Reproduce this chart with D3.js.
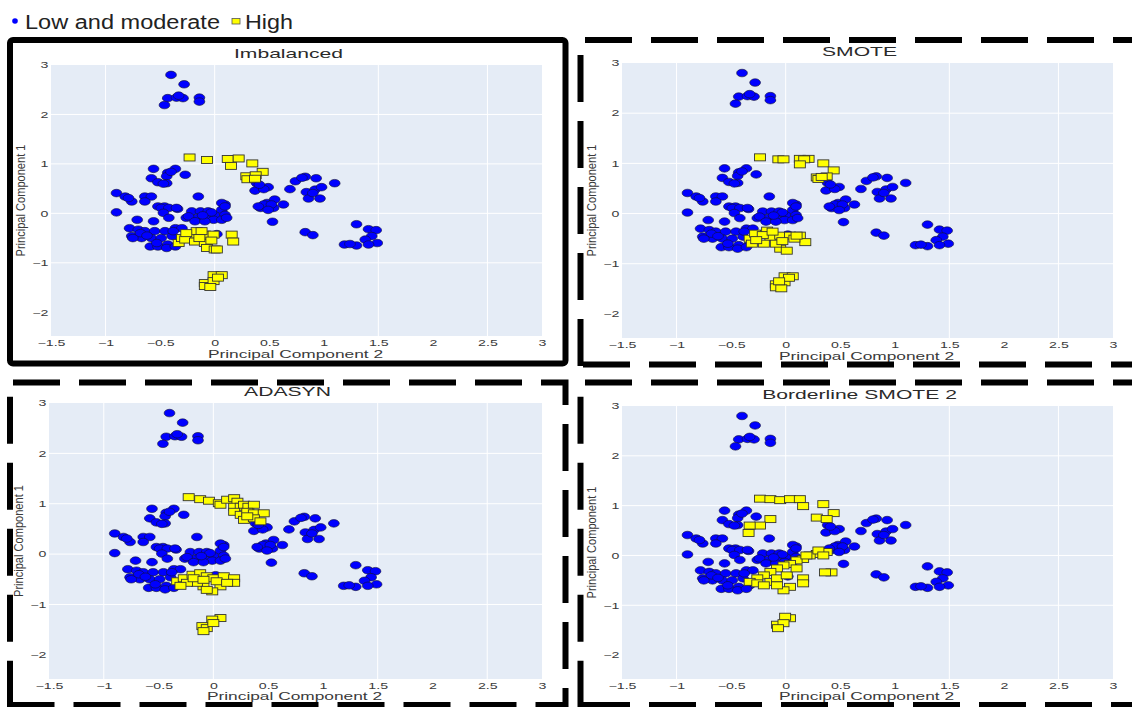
<!DOCTYPE html>
<html>
<head>
<meta charset="utf-8">
<script src="https://cdn.jsdelivr.net/npm/d3@7"></script>
<style>
  body { margin: 0; background: #fff; }
  text { font-family: "Liberation Sans", Arial, sans-serif; }
</style>
</head>
<body>
<svg id="chart" width="1132" height="707"></svg>
<script>
// tick values / grid
var xTicks = [-1.5, -1, -0.5, 0, 0.5, 1, 1.5, 2, 2.5, 3];
var yTicks = [-2, -1, 0, 1, 2, 3];
var xGrid = [-1, 0, 1.5, 2.5];
var yGrid = [-1, 0, 1, 2];

var seriesNames = ["Low and moderate", "High"];
var panelTitles = ["Imbalanced", "SMOTE", "ADASYN", "Borderline SMOTE 2"];

// majority class (same in every panel): [PC2, PC1]
var lowModerate = [
  [-0.40,2.80],[-0.28,2.61],[-0.43,2.33],[-0.35,2.34],[-0.29,2.33],[-0.33,2.38],[-0.46,2.19],[-0.14,2.34],[-0.14,2.26],
  [-0.56,0.90],[-0.36,0.90],[-0.43,0.82],[-0.44,0.75],[-0.27,0.78],[-0.58,0.71],[-0.52,0.63],[-0.44,0.61],[-0.47,0.60],[-0.40,0.84],
  [-0.90,0.41],[-0.90,0.02],[-0.82,0.34],[-0.76,0.24],[-0.79,0.31],[-0.64,0.34],[-0.58,0.34],[-0.64,0.24],[-0.71,-0.13],[-0.56,-0.16],[-0.15,0.34],
  [-0.52,0.14],[-0.46,0.14],[-0.49,0.11],[-0.42,0.11],[-0.34,0.09],[-0.47,0.01],[-0.42,-0.09],[-0.35,0.11],
  [-0.26,-0.09],[-0.21,0.04],[-0.13,0.04],[-0.06,0.04],[0.00,-0.03],[0.065,0.07],[0.095,0.18],[0.095,-0.03],[-0.16,-0.09],[-0.09,-0.09],
  [-0.01,-0.13],[-0.24,-0.06],[-0.18,-0.16],[-0.09,-0.16],[0.065,-0.13],[0.11,-0.09],[0.065,0.21],[0.095,0.14],[-0.03,0.02],[-0.11,-0.04],
  [-0.78,-0.30],[-0.70,-0.33],[-0.64,-0.36],[-0.55,-0.36],[-0.455,-0.36],[-0.36,-0.30],[-0.76,-0.46],[-0.67,-0.50],[-0.58,-0.50],[-0.49,-0.50],
  [-0.39,-0.46],[-0.59,-0.67],[-0.52,-0.67],[-0.43,-0.63],[-0.33,-0.60],[-0.68,-0.40],[-0.53,-0.60],[-0.44,-0.70],[-0.36,-0.67],[-0.30,-0.30],
  [-0.38,-0.36],[-0.75,-0.50],[-0.62,-0.45],[0.02,-0.42],
  [0.385,0.61],[0.49,0.53],[0.37,0.46],[0.45,0.49],[0.41,0.58],
  [0.42,0.11],[0.48,0.21],[0.55,0.28],[0.54,0.11],[0.63,0.18],[0.45,0.18],[0.52,0.18],[0.40,0.14],[0.49,0.07],[0.53,-0.17],
  [0.69,0.49],[0.74,0.65],[0.83,0.74],[0.93,0.71],[1.10,0.61],[0.84,0.43],[0.92,0.48],[0.98,0.53],[0.86,0.30],[0.965,0.30],[0.90,0.41],[0.80,0.72],
  [0.83,-0.38],[0.90,-0.44],[1.30,-0.22],[1.41,-0.32],[1.48,-0.34],[1.44,-0.46],[1.38,-0.53],[1.49,-0.60],[1.19,-0.63],[1.30,-0.65],[1.41,-0.63],[1.24,-0.62]
];

// minority class per resampling method
var highImbalanced = [
  [-0.23,1.13],[-0.07,1.08],[0.12,1.10],[0.22,1.11],[0.15,0.96],[0.345,1.01],[0.44,0.84],[0.29,0.75],[0.376,0.77],[0.30,0.69],[0.37,0.70],
  [-0.33,-0.60],[-0.30,-0.50],[-0.21,-0.43],[-0.165,-0.36],[-0.09,-0.43],[-0.01,-0.43],[-0.27,-0.53],[-0.18,-0.57],[-0.09,-0.60],
  [-0.07,-0.70],[0.00,-0.73],[0.156,-0.43],[0.17,-0.57],[-0.26,-0.40],[-0.12,-0.36],[0.02,-0.73],[-0.14,-0.50],[-0.03,-0.55],
  [-0.01,-1.25],[0.065,-1.25],[-0.09,-1.41],[-0.09,-1.47],[-0.01,-1.37],[-0.04,-1.49],[0.03,-1.30]
];
var highSmote = [
  [-0.235,1.12],[-0.067,1.08],[-0.02,1.08],[0.13,1.09],[0.21,1.09],[0.17,1.08],[0.13,0.98],[0.345,1.00],[0.44,0.86],[0.285,0.72],[0.376,0.74],[0.30,0.69],[0.33,0.73],
  [-0.33,-0.50],[-0.28,-0.40],[-0.17,-0.34],[-0.14,-0.47],[-0.05,-0.44],[0.04,-0.44],[0.13,-0.44],[0.18,-0.57],[-0.05,-0.70],[0.01,-0.74],
  [-0.20,-0.60],[-0.31,-0.60],[-0.21,-0.43],[-0.09,-0.60],[-0.27,-0.53],[-0.12,-0.36],[0.08,-0.50],[-0.03,-0.55],[0.10,-0.44],
  [-0.01,-1.25],[0.065,-1.25],[-0.09,-1.41],[-0.09,-1.47],[-0.01,-1.37],[-0.04,-1.49],[0.03,-1.28],[-0.06,-1.35]
];
var highAdasyn = [
  [-0.225,1.13],[-0.12,1.09],[-0.04,1.06],[0.05,1.01],[0.065,0.98],[0.126,1.08],[0.19,1.11],[0.22,1.04],[0.19,0.94],[0.25,0.94],
  [0.28,0.98],[0.32,0.94],[0.37,0.98],[0.19,0.84],[0.25,0.78],[0.31,0.84],[0.37,0.81],[0.46,0.81],[0.28,0.68],[0.37,0.71],[0.43,0.65],[0.31,0.75],
  [-0.33,-0.54],[-0.27,-0.48],[-0.19,-0.41],[-0.12,-0.38],[-0.06,-0.44],[0.00,-0.48],[0.095,-0.44],[0.19,-0.48],[0.19,-0.57],[0.065,-0.64],
  [-0.01,-0.74],[-0.09,-0.64],[-0.15,-0.57],[-0.24,-0.57],[-0.30,-0.63],[-0.18,-0.48],[-0.09,-0.51],[0.03,-0.54],[0.126,-0.57],[-0.06,-0.71],
  [0.065,-1.27],[-0.01,-1.30],[-0.10,-1.43],[-0.06,-1.47],[0.00,-1.37],[-0.09,-1.53]
];
var highBorderline = [
  [-0.235,1.14],[-0.14,1.13],[-0.05,1.11],[0.04,1.13],[0.13,1.13],[0.16,0.99],[0.345,1.03],[0.44,0.85],[0.285,0.76],[0.376,0.73],
  [-0.14,0.73],[-0.235,0.60],[-0.33,0.60],[-0.34,0.45],
  [0.376,0.07],[0.285,0.03],[0.22,0.00],[0.16,-0.07],[0.10,-0.10],[0.04,-0.17],[-0.02,-0.20],[-0.08,-0.26],[-0.14,-0.33],[-0.20,-0.40],
  [-0.26,-0.46],[-0.33,-0.53],[-0.14,-0.53],[-0.08,-0.46],[0.01,-0.40],[0.10,-0.26],[0.16,-0.46],[0.16,-0.56],[0.04,-0.63],[-0.02,-0.70],
  [0.42,-0.34],[0.36,-0.34],[0.19,0.00],[0.30,0.10],[0.345,0.00],[-0.26,-0.56],[-0.20,-0.60],[-0.08,-0.60],
  [0.04,-1.26],[-0.005,-1.23],[-0.08,-1.39],[-0.02,-1.36],[-0.07,-1.46]
];

var highSets = [highImbalanced, highSmote, highAdasyn, highBorderline];

// layout of the four subplots
var panels = [
  { left: 51,  top: 65,  w: 491, h: 271 },
  { left: 622, top: 63,  w: 491, h: 275 },
  { left: 49,  top: 403, w: 493, h: 276 },
  { left: 622, top: 406, w: 491, h: 273 }
];

var SX = 1.65; // horizontal stretch of the original raster
var svg = d3.select("#chart");

function fmt(d) { return d < 0 ? "\u2212" + Math.abs(d) : String(d); }

panels.forEach(function(p, i) {
  var x = d3.scaleLinear().domain([-1.5, 3]).range([p.left, p.left + p.w]);
  var y = d3.scaleLinear().domain([-2.48, 3]).range([p.top + p.h, p.top]);
  var g = svg.append("g");

  g.append("rect")
    .attr("x", p.left).attr("y", p.top)
    .attr("width", p.w).attr("height", p.h)
    .attr("fill", "#E5ECF6");

  g.selectAll(".gx").data(xGrid).enter().append("line")
    .attr("x1", function(d) { return x(d); }).attr("x2", function(d) { return x(d); })
    .attr("y1", p.top).attr("y2", p.top + p.h)
    .attr("stroke", "#fff").attr("stroke-width", 1);
  g.selectAll(".gy").data(yGrid).enter().append("line")
    .attr("y1", function(d) { return y(d); }).attr("y2", function(d) { return y(d); })
    .attr("x1", p.left).attr("x2", p.left + p.w)
    .attr("stroke", "#fff").attr("stroke-width", 1);

  var xa = g.append("g")
    .attr("transform", "translate(0," + (p.top + p.h) + ")")
    .call(d3.axisBottom(x).tickValues(xTicks).tickSize(0).tickPadding(3.5).tickFormat(fmt));
  xa.select(".domain").remove();
  xa.selectAll("text")
    .attr("font-size", 8.6).attr("fill", "#3a3a3a").style("font-family", "Liberation Sans, Arial, sans-serif")
    .attr("transform", "scale(" + SX + ",1)");

  var ya = g.append("g")
    .attr("transform", "translate(" + p.left + ",0)")
    .call(d3.axisLeft(y).tickValues(yTicks).tickSize(0).tickFormat(fmt));
  ya.select(".domain").remove();
  ya.selectAll("text")
    .attr("x", 0)
    .attr("font-size", 8.6).attr("fill", "#3a3a3a").style("font-family", "Liberation Sans, Arial, sans-serif")
    .attr("transform", "translate(-2.5,0) scale(" + SX + ",1)");

  // markers
  g.selectAll(".low").data(lowModerate).enter().append("ellipse")
    .attr("cx", function(d) { return x(d[0]); })
    .attr("cy", function(d) { return y(d[1]); })
    .attr("rx", 5.4).attr("ry", 3.8)
    .attr("fill", "#0000FF").attr("stroke", "#101030").attr("stroke-width", 0.6);

  g.selectAll(".high").data(highSets[i]).enter().append("rect")
    .attr("x", function(d) { return x(d[0]) - 5.5; })
    .attr("y", function(d) { return y(d[1]) - 3.5; })
    .attr("width", 11).attr("height", 7)
    .attr("fill", "#FFFF00").attr("stroke", "#333").attr("stroke-width", 0.9);

  // titles
  g.append("text")
    .attr("transform", "translate(" + (p.left + p.w / 2 - 8) + "," + (p.top - 7.5) + ") scale(" + SX + ",1)")
    .attr("text-anchor", "middle").attr("font-size", 12.8).attr("fill", "#2a2a2a")
    .text(panelTitles[i]);

  var xtY = Math.min(p.top + p.h + 21.5, 700);
  g.append("text")
    .attr("transform", "translate(" + (p.left + p.w / 2 - 1) + "," + xtY + ") scale(" + SX + ",1)")
    .attr("text-anchor", "middle").attr("font-size", 10.5).attr("fill", "#3a3a3a")
    .text("Principal Component 2");

  g.append("text")
    .attr("transform", "translate(" + (p.left - 26) + "," + (p.top + p.h / 2) + ") rotate(-90)")
    .attr("text-anchor", "middle").attr("font-size", 12.5).attr("fill", "#3a3a3a")
    .attr("textLength", 112).attr("lengthAdjust", "spacingAndGlyphs")
    .text("Principal Component 1");
});

// frames around the subplots
var frame = svg.append("g").attr("fill", "none").attr("stroke", "#000").attr("stroke-width", 6);
frame.append("rect")
  .attr("x", 10).attr("y", 40).attr("width", 555.5).attr("height", 323.5).attr("rx", 3);

var dashed = [
  "M585,40 H1140", "M580.5,55 V367.5", "M583,364.5 H1140",
  "M13,382.5 H565.5 V705 H13", "M10,396.7 V708",
  "M585,382.5 H1140", "M580.5,396.7 V708", "M583,705 H1140"
];
frame.selectAll(".dash").data(dashed).enter().append("path")
  .attr("d", function(d) { return d; })
  .attr("stroke-dasharray", "47,19");

// legend
var lg = svg.append("g");
lg.append("circle").attr("cx", 15).attr("cy", 21).attr("r", 2.8).attr("fill", "#0000FF");
lg.append("text").attr("x", 25).attr("y", 29).attr("font-size", 19.5).attr("fill", "#222")
  .attr("textLength", 195).attr("lengthAdjust", "spacingAndGlyphs").text(seriesNames[0]);
lg.append("rect").attr("x", 232).attr("y", 18.5).attr("width", 8).attr("height", 5.5)
  .attr("fill", "#FFFF00").attr("stroke", "#555").attr("stroke-width", 0.8);
lg.append("text").attr("x", 245).attr("y", 29).attr("font-size", 19.5).attr("fill", "#222")
  .attr("textLength", 48).attr("lengthAdjust", "spacingAndGlyphs").text(seriesNames[1]);
</script>
</body>
</html>
